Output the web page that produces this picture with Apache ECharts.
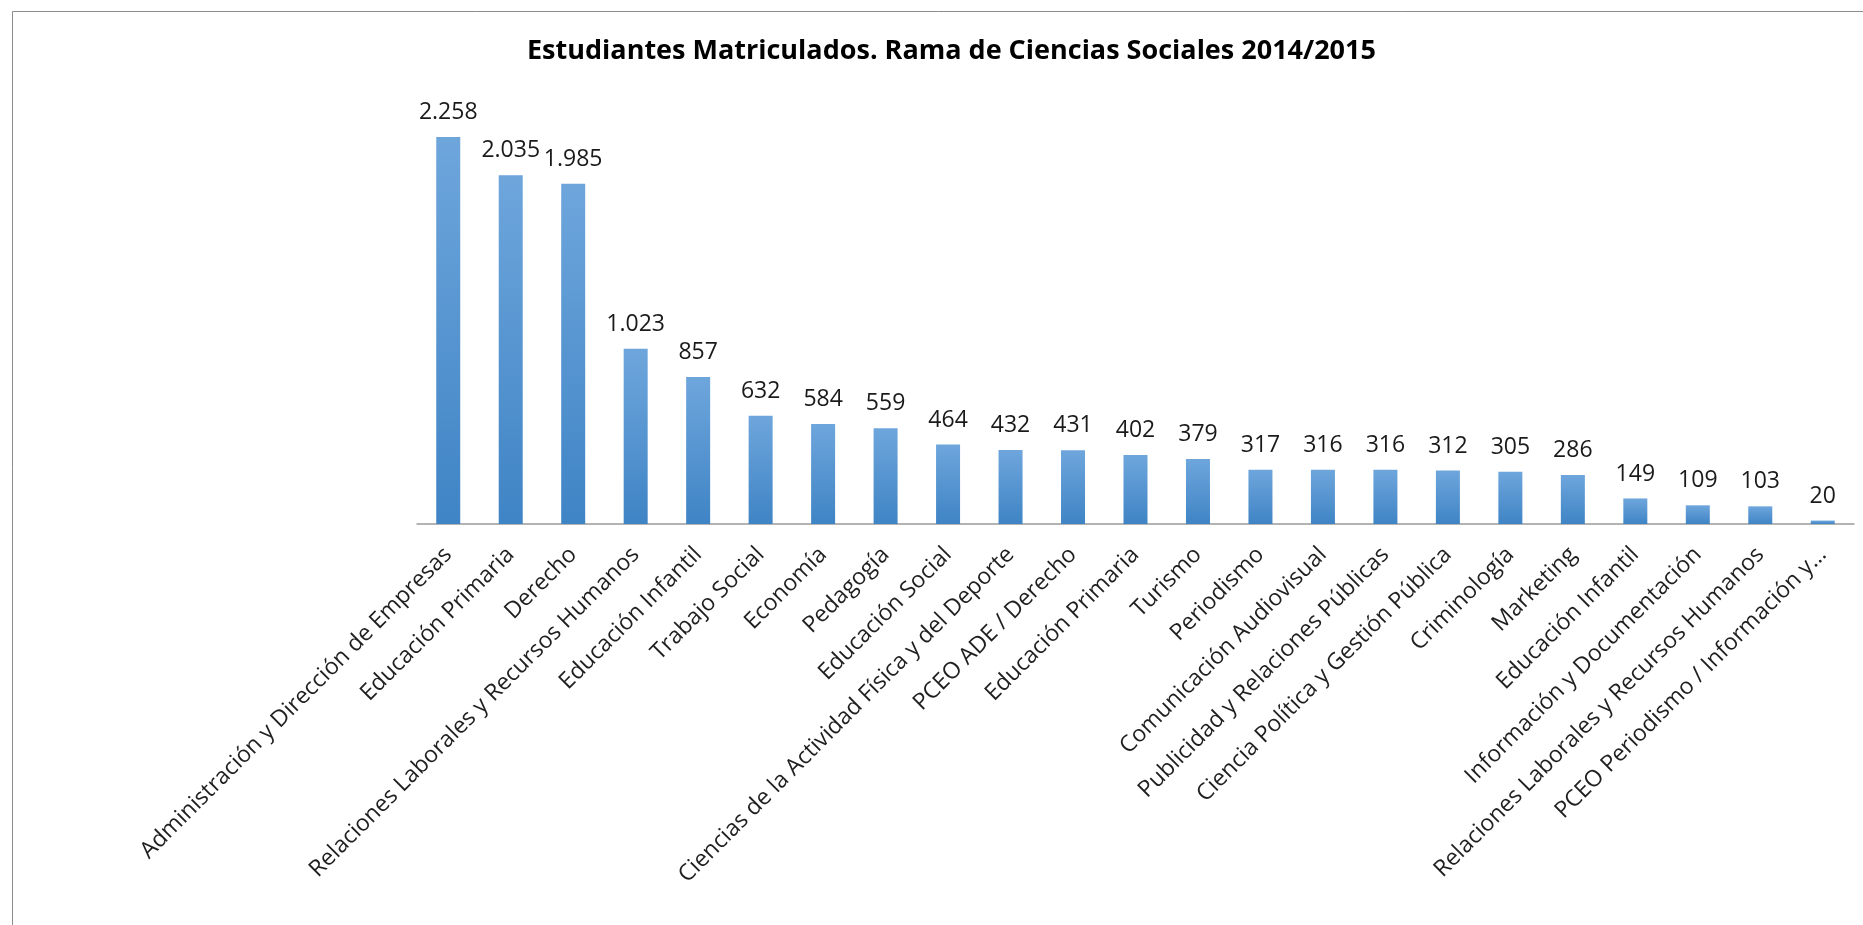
<!DOCTYPE html>
<html>
<head>
<meta charset="utf-8">
<script src="https://cdn.jsdelivr.net/npm/echarts@6/dist/echarts.min.js"></script>
<style>
html,body{margin:0;padding:0;background:#fff;}
#c{width:1863px;height:925px;}
</style>
</head>
<body>
<div id="c"></div>
<script>
const titleText = 'Estudiantes Matriculados. Rama de Ciencias Sociales 2014/2015';
const categories = [
  'Administración y Dirección de Empresas',
  'Educación Primaria',
  'Derecho',
  'Relaciones Laborales y Recursos Humanos',
  'Educación Infantil',
  'Trabajo Social',
  'Economía',
  'Pedagogía',
  'Educación Social',
  'Ciencias de la Actividad Física y del Deporte',
  'PCEO ADE / Derecho',
  'Educación Primaria',
  'Turismo',
  'Periodismo',
  'Comunicación Audiovisual',
  'Publicidad y Relaciones Públicas',
  'Ciencia Política y Gestión Pública',
  'Criminología',
  'Marketing',
  'Educación Infantil',
  'Información y Documentación',
  'Relaciones Laborales y Recursos Humanos',
  'PCEO Periodismo / Información y…'
];
const values = [2258, 2035, 1985, 1023, 857, 632, 584, 559, 464, 432, 431, 402, 379, 317, 316, 316, 312, 305, 286, 149, 109, 103, 20];

function fmt(v) {
  const s = String(v);
  return s.replace(/\B(?=(\d{3})+(?!\d))/g, '.');
}

const chart = echarts.init(document.getElementById('c'));
chart.setOption({
  animation: false,
  backgroundColor: '#ffffff',
  title: {
    text: titleText,
    left: 522,
    top: 33,
    textStyle: { fontFamily: 'Open Sans', fontWeight: 'bold', fontSize: 27, color: '#000000' }
  },
  graphic: [{
    type: 'rect',
    shape: { x: 12.5, y: 11.5, width: 1900, height: 1000 },
    style: { fill: 'none', stroke: '#8c8c8c', lineWidth: 1 },
    silent: true
  }],
  grid: { left: 417, right: 9, top: 95.5, bottom: 401, containLabel: false },
  xAxis: {
    type: 'category',
    data: categories,
    axisLine: { show: true, lineStyle: { color: '#9a9a9a', width: 1.5 } },
    axisTick: { show: false },
    axisLabel: {
      interval: 0,
      rotate: 45,
      margin: 27,
      fontFamily: 'Open Sans',
      fontSize: 23,
      color: '#1f1f1f'
    }
  },
  yAxis: {
    type: 'value',
    min: 0,
    max: 2500,
    show: false,
    splitLine: { show: false }
  },
  series: [{
    type: 'bar',
    data: values,
    barWidth: 24,
    itemStyle: {
      color: new echarts.graphic.LinearGradient(0, 0, 0, 1, [
        { offset: 0, color: '#6ea6dc' },
        { offset: 1, color: '#3f84c5' }
      ])
    },
    label: {
      show: true,
      position: 'top',
      distance: 13,
      fontFamily: 'Open Sans',
      fontSize: 23,
      lineHeight: 23,
      color: '#1a1a1a',
      formatter: p => fmt(p.value)
    }
  }]
});
</script>
</body>
</html>
